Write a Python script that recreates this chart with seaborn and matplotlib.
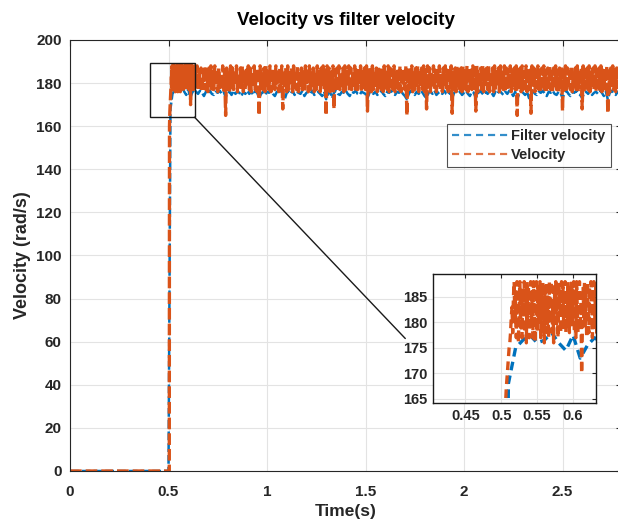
import numpy as np
import pandas as pd
import matplotlib
matplotlib.use("Agg")
import matplotlib.pyplot as plt
from matplotlib.patches import Rectangle, ConnectionPatch
import seaborn as sns

# ---------------- data ----------------
# Velocity: 0 until the step, fine sampling (1 ms) across the zoomed window,
# then every 5 ms up to 2.8 s
vel_pre_t = [0.0, 0.504]
vel_pre = [0, 0]
vel_fine_t = np.round(np.arange(0.505, 0.6355, 0.001), 3)
velocity_fine = [
    160, 164, 167, 169, 171, 173, 175, 176, 178, 181, 183, 178, 185, 188, 180, 186, 177, 188, 182, 176,
    184, 188, 179, 186, 177, 187, 183, 188, 178, 185, 176, 188, 181, 187, 177, 184, 188, 179, 186, 177,
    188, 182, 176, 185, 188, 178, 187, 180, 184, 188, 177, 186, 179, 188, 183, 176, 187, 181, 188, 178,
    185, 177, 188, 180, 186, 188, 178, 184, 176, 187, 182, 188, 179, 185, 177, 188, 183, 186, 178, 188,
    181, 187, 179, 184, 188, 178, 186, 180, 188, 183, 178, 187, 181, 188, 179, 185, 188, 178, 186, 177,
    188, 182, 178, 185, 188, 180, 184, 170, 178, 187, 181, 188, 179, 186, 177, 188, 183, 178, 187, 180,
    188, 184, 177, 186, 188, 179, 185, 188, 178, 187, 181,
]
vel_t = np.round(np.arange(0.64, 2.8001, 0.005), 3)
velocity = [
    179, 188, 177, 186, 178, 187, 176, 185, 180, 188, 177, 186, 176,
    187, 178, 188, 176, 185, 177, 188, 179, 186, 176, 187, 178, 184, 177, 188, 176, 186, 165, 187, 177,
    185, 176, 188, 178, 187, 177, 186, 179, 188, 176, 184, 177, 187, 178, 188, 176, 185, 177, 186, 179,
    188, 177, 187, 176, 185, 178, 188, 177, 186, 176, 187, 165, 188, 178, 184, 177, 187, 176, 188, 179,
    186, 177, 188, 176, 187, 178, 185, 177, 188, 179, 186, 176, 187, 177, 188, 168, 185, 178, 187, 176,
    188, 177, 186, 179, 187, 176, 188, 178, 184, 177, 188, 176, 186, 178, 187, 177, 185, 176, 188, 179,
    187, 176, 188, 177, 186, 178, 187, 176, 185, 177, 188, 179, 186, 176, 187, 178, 188, 177, 186, 165,
    188, 178, 187, 176, 185, 177, 188, 168, 186, 179, 187, 176, 188, 177, 184, 178, 187, 176, 188, 177,
    186, 179, 188, 176, 187, 177, 185, 178, 188, 176, 186, 177, 187, 179, 188, 176, 185, 178, 187, 177,
    188, 167, 186, 178, 187, 176, 188, 177, 185, 179, 187, 176, 188, 178, 186, 177, 187, 176, 188, 178,
    185, 177, 188, 176, 187, 179, 186, 177, 188, 176, 184, 178, 187, 177, 188, 176, 186, 179, 187, 177,
    188, 165, 187, 177, 186, 178, 188, 176, 185, 177, 187, 179, 188, 176, 186, 178, 187, 177, 188, 176,
    186, 168, 188, 177, 187, 176, 185, 178, 188, 177, 186, 176, 187, 179, 188, 177, 185, 176, 187, 178,
    188, 177, 186, 176, 187, 178, 188, 166, 185, 177, 187, 176, 188, 179, 186, 177, 187, 176, 188, 178,
    185, 177, 188, 176, 187, 178, 186, 177, 188, 179, 187, 167, 188, 176, 185, 178, 187, 177, 188, 176,
    186, 179, 187, 177, 188, 176, 185, 178, 187, 176, 188, 177, 186, 179, 187, 176, 188, 178, 185, 177,
    188, 176, 187, 178, 186, 177, 188, 176, 185, 179, 187, 177, 188, 165, 186, 178, 187, 176, 188, 177,
    185, 178, 188, 176, 187, 177, 186, 166, 188, 179, 187, 176, 185, 178, 188, 177, 186, 176, 187, 179,
    188, 177, 186, 176, 187, 178, 188, 177, 185, 176, 187, 179, 188, 177, 186, 176, 187, 178, 188, 167,
    186, 177, 188, 176, 187, 179, 185, 177, 188, 176, 186, 178, 187, 177, 188, 176, 185, 179, 187, 168,
    188, 176, 186, 178, 187, 177, 188, 176, 185, 179, 187, 177, 188, 176, 186, 178, 187, 177, 188, 176,
    186, 178, 187, 177, 188, 166, 185, 176, 187, 179, 188, 177, 186, 176, 187, 178, 188, 177, 185, 176,
]

# Filter velocity: 0 until t=0.5 s, then sampled every 0.01 s from 0.51 to 2.8 s
filt_pre_t = [0.0, 0.5]
filt_pre = [0, 0]
filt_t = np.round(np.arange(0.51, 2.8001, 0.01), 3)
filter_velocity = [
    168, 175, 176.5, 177.5, 176, 176.5, 178, 176, 174.5, 177.5, 173, 175.5, 177, 176, 175, 176.5, 175.5, 174, 176, 175,
    176.5, 175, 174.5, 176, 175.5, 176.5, 175, 176, 173.5, 175.5, 176, 174.5, 176.5, 175, 176, 175.5, 174, 176, 175, 176.5,
    175, 176, 174.5, 176.5, 175.5, 173, 175, 176, 174.5, 176, 175.5, 176.5, 175, 174, 176, 175.5, 176.5, 175, 172.5, 175.5,
    176, 175, 176.5, 174.5, 176, 175.5, 175, 176.5, 174, 175.5, 176, 175, 176.5, 174.5, 175.5, 176, 175, 174, 176, 172.5,
    175, 176, 173, 175.5, 176.5, 175, 174.5, 176, 175.5, 176.5, 175, 174, 176, 175.5, 176.5, 175, 174.5, 176, 175.5, 175,
    173, 175.5, 176.5, 175, 176, 174.5, 175.5, 176.5, 175, 174, 176, 175.5, 176.5, 175, 174.5, 176, 175.5, 176.5, 175, 174,
    172.5, 175, 176.5, 175.5, 174.5, 176, 175, 176.5, 175.5, 174, 173, 175.5, 176, 175, 176.5, 174.5, 175.5, 176, 175, 176.5,
    175, 174.5, 176, 173, 175.5, 176.5, 175, 176, 174.5, 175.5, 176.5, 175, 174, 176, 175.5, 173, 175, 176.5, 175.5, 174.5,
    176, 175, 176.5, 175.5, 174, 176, 175, 176.5, 175.5, 174.5, 176, 175, 176.5, 175.5, 174, 176, 172.5, 175, 176.5, 175.5,
    174.5, 176, 173, 175.5, 176.5, 175, 174.5, 176, 175.5, 176.5, 175, 174, 176, 175.5, 176.5, 175, 174.5, 176, 175.5, 173,
    175.5, 176.5, 175, 174, 176, 175.5, 176.5, 175, 174.5, 173, 175.5, 176, 175, 176.5, 174.5, 175.5, 176, 175, 176.5, 175.5,
    174, 176, 172.5, 175.5, 176.5, 175, 174.5, 176, 175.5, 175,
]

title = "Velocity vs filter velocity"
xlabel = "Time(s)"
ylabel = "Velocity (rad/s)"
labels = ["Filter velocity", "Velocity"]
main_xticks = [0, 0.5, 1, 1.5, 2, 2.5]
main_yticks = list(range(0, 201, 20))
inset_xticks = [0.45, 0.5, 0.55, 0.6]
inset_yticks = [165, 170, 175, 180, 185]
inset_xlim = (0.405, 0.632)
inset_ylim = (164.2, 189.5)

# ---------------- frames ----------------
df_vel = pd.DataFrame({"t": np.concatenate([vel_pre_t, vel_fine_t, vel_t]),
                       "v": np.concatenate([vel_pre, velocity_fine, velocity]).astype(float)})
df_filt = pd.DataFrame({"t": np.concatenate([filt_pre_t, filt_t]),
                        "v": np.concatenate([filt_pre, filter_velocity]).astype(float)})

# ---------------- style ----------------
sns.set_theme(style="whitegrid")
plt.rcParams["font.family"] = ["Liberation Sans", "DejaVu Sans"]
plt.rcParams["font.weight"] = "bold"
plt.rcParams["axes.labelweight"] = "bold"
plt.rcParams["axes.titleweight"] = "bold"

BLUE = "#0072BD"
ORANGE = "#D95319"
GRID = "#e3e3e3"
INK = "#262626"

fig = plt.figure(figsize=(6.18, 5.23), dpi=100)
ax = fig.add_axes([70 / 618, 1 - 471 / 523, (621.6 - 70) / 618, (471 - 40) / 523])

sns.lineplot(data=df_filt, x="t", y="v", ax=ax, color=BLUE, lw=1.8,
             estimator=None, sort=False, label=labels[0])
sns.lineplot(data=df_vel, x="t", y="v", ax=ax, color=ORANGE, lw=2.4,
             estimator=None, sort=False, label=labels[1])
for ln in ax.get_lines():
    ln.set_linestyle((0, (3.5, 1.2)))

ax.set_xlim(0, 2.8)
ax.set_ylim(0, 200)
ax.set_xticks(main_xticks)
ax.set_xticklabels([f"{v:g}" for v in main_xticks])
ax.set_yticks(main_yticks)
ax.tick_params(axis="both", which="both", direction="in", length=4, width=0.8,
               top=True, right=True, labelsize=11, colors=INK)
ax.tick_params(axis="x", pad=10)
ax.tick_params(axis="y", pad=6)
for lab in ax.get_xticklabels() + ax.get_yticklabels():
    lab.set_fontweight("bold")
ax.grid(True, color=GRID, lw=0.8)
for s in ax.spines.values():
    s.set_color(INK)
    s.set_linewidth(0.8)
ax.set_xlabel(xlabel, fontsize=12.5, fontweight="bold", color=INK, labelpad=4)
ax.set_ylabel(ylabel, fontsize=13, fontweight="bold", color=INK, labelpad=4)
ax.set_title(title, fontsize=13.5, fontweight="bold", color="black", pad=11)

leg = ax.legend(loc="upper right", bbox_to_anchor=(0.98, 0.805), frameon=True,
                fancybox=False, edgecolor=INK, fontsize=10.5, handlelength=3.8,
                handletextpad=0.25, borderpad=0.35, labelspacing=0.35, borderaxespad=0)
leg.get_frame().set_linewidth(0.8)
for t in leg.get_texts():
    t.set_fontweight("bold")
for h in leg.get_lines():
    h.set_linestyle((0, (3.2, 2.2)))
    h.set_linewidth(1.6)
    h.set_alpha(0.8)

# zoom rectangle
ax.add_patch(Rectangle((inset_xlim[0], inset_ylim[0]), inset_xlim[1] - inset_xlim[0],
                       inset_ylim[1] - inset_ylim[0], fill=False, ec="#1a1a1a", lw=1.0, zorder=5))

# ---------------- inset ----------------
axi = fig.add_axes([433 / 618, 1 - 403 / 523, (596 - 433) / 618, (403 - 274) / 523])
sns.lineplot(data=df_filt, x="t", y="v", ax=axi, color=BLUE, lw=2.4,
             estimator=None, sort=False, legend=False)
sns.lineplot(data=df_vel, x="t", y="v", ax=axi, color=ORANGE, lw=2.4,
             estimator=None, sort=False, legend=False)
for ln in axi.get_lines():
    ln.set_linestyle((0, (2.6, 1.6)))
axi.set_xlim(*inset_xlim)
axi.set_ylim(*inset_ylim)
axi.set_xticks(inset_xticks)
axi.set_xticklabels([f"{v:g}" for v in inset_xticks])
axi.set_yticks(inset_yticks)
axi.set_xlabel("")
axi.set_ylabel("")
axi.tick_params(axis="both", direction="in", length=3, width=0.8, top=True, right=True,
                labelsize=10.5, colors=INK, pad=4)
for lab in axi.get_xticklabels() + axi.get_yticklabels():
    lab.set_fontweight("bold")
axi.grid(True, color=GRID, lw=0.8)
axi.set_facecolor("white")
for s in axi.spines.values():
    s.set_color("#1a1a1a")
    s.set_linewidth(1.0)

con = ConnectionPatch(xyA=(inset_xlim[1], inset_ylim[0]), coordsA=ax.transData,
                      xyB=(-0.17, 0.5), coordsB=axi.transAxes,
                      color="#1a1a1a", lw=1.0)
fig.add_artist(con)

fig.savefig("out.png", dpi=100)
